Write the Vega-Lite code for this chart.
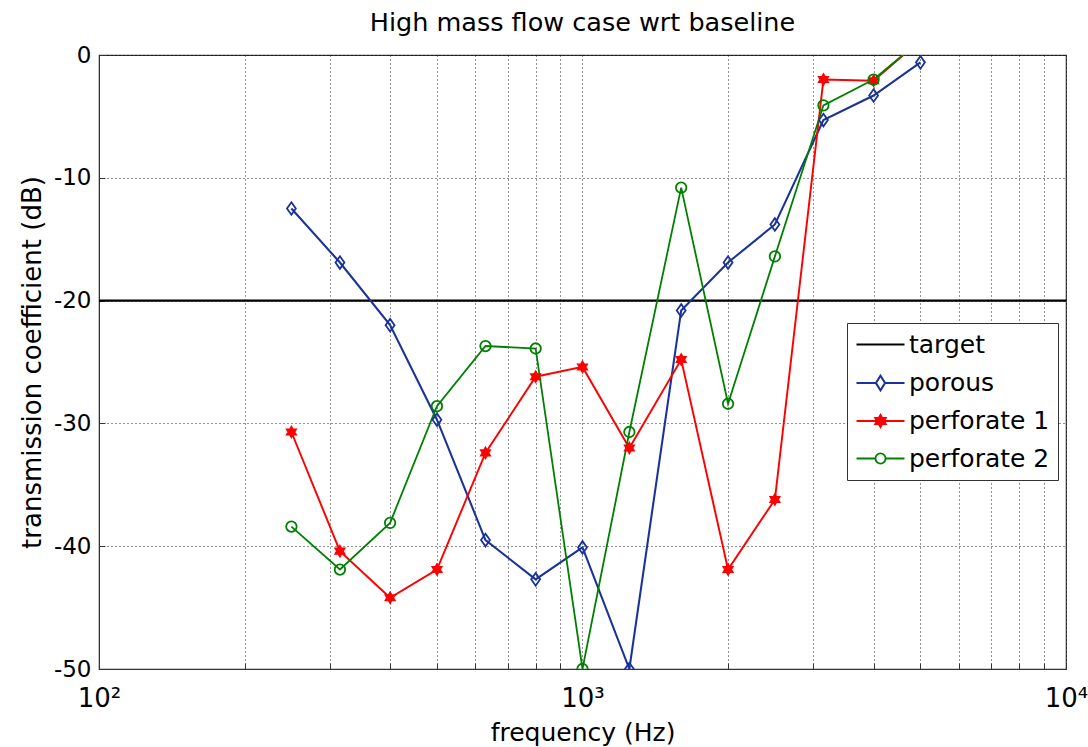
{
  "$schema": "https://vega.github.io/schema/vega-lite/v6.json",
  "width": 967,
  "height": 614,
  "autosize": {"type": "none"},
  "padding": {"left": 99, "top": 55, "right": 22, "bottom": 78},
  "background": "white",
  "title": {"text": "High mass flow case wrt baseline", "font": "DejaVu Sans", "fontSize": 25.5, "fontWeight": "normal", "color": "black", "offset": 8},
  "config": {
    "font": "DejaVu Sans",
    "view": {"stroke": "#333", "strokeWidth": 1.2}
  },
  "data": {
    "values": [
      {"series": "target", "freq": 100, "value": -20},
      {"series": "target", "freq": 10000, "value": -20},
      {"series": "porous", "freq": 250, "value": -12.5},
      {"series": "porous", "freq": 315, "value": -16.9},
      {"series": "porous", "freq": 400, "value": -22.0},
      {"series": "porous", "freq": 500, "value": -29.7},
      {"series": "porous", "freq": 630, "value": -39.5},
      {"series": "porous", "freq": 800, "value": -42.7},
      {"series": "porous", "freq": 1000, "value": -40.1},
      {"series": "porous", "freq": 1250, "value": -50.0},
      {"series": "porous", "freq": 1600, "value": -20.8},
      {"series": "porous", "freq": 2000, "value": -16.9},
      {"series": "porous", "freq": 2500, "value": -13.8},
      {"series": "porous", "freq": 3150, "value": -5.3},
      {"series": "porous", "freq": 4000, "value": -3.3},
      {"series": "porous", "freq": 5000, "value": -0.6},
      {"series": "perforate 1", "freq": 250, "value": -30.7},
      {"series": "perforate 1", "freq": 315, "value": -40.4},
      {"series": "perforate 1", "freq": 400, "value": -44.2},
      {"series": "perforate 1", "freq": 500, "value": -41.9},
      {"series": "perforate 1", "freq": 630, "value": -32.4},
      {"series": "perforate 1", "freq": 800, "value": -26.2},
      {"series": "perforate 1", "freq": 1000, "value": -25.4},
      {"series": "perforate 1", "freq": 1250, "value": -32.0},
      {"series": "perforate 1", "freq": 1600, "value": -24.8},
      {"series": "perforate 1", "freq": 2000, "value": -41.9},
      {"series": "perforate 1", "freq": 2500, "value": -36.2},
      {"series": "perforate 1", "freq": 3150, "value": -2.0},
      {"series": "perforate 1", "freq": 4000, "value": -2.1},
      {"series": "perforate 1", "freq": 5000, "value": 1.2},
      {"series": "perforate 2", "freq": 250, "value": -38.4},
      {"series": "perforate 2", "freq": 315, "value": -41.9},
      {"series": "perforate 2", "freq": 400, "value": -38.1},
      {"series": "perforate 2", "freq": 500, "value": -28.6},
      {"series": "perforate 2", "freq": 630, "value": -23.7},
      {"series": "perforate 2", "freq": 800, "value": -23.9},
      {"series": "perforate 2", "freq": 1000, "value": -50.0},
      {"series": "perforate 2", "freq": 1250, "value": -30.7},
      {"series": "perforate 2", "freq": 1600, "value": -10.8},
      {"series": "perforate 2", "freq": 2000, "value": -28.4},
      {"series": "perforate 2", "freq": 2500, "value": -16.4},
      {"series": "perforate 2", "freq": 3150, "value": -4.1},
      {"series": "perforate 2", "freq": 4000, "value": -2.0},
      {"series": "perforate 2", "freq": 5000, "value": 1.2}
    ]
  },
  "encoding": {
    "x": {
      "field": "freq", "type": "quantitative",
      "scale": {"type": "log", "domain": [100, 10000], "nice": false},
      "axis": {
        "title": "frequency (Hz)",
        "values": [100, 200, 300, 400, 500, 600, 700, 800, 900, 1000, 2000, 3000, 4000, 5000, 6000, 7000, 8000, 9000, 10000],
        "labelExpr": "datum.value == 100 ? '10²' : datum.value == 1000 ? '10³' : datum.value == 10000 ? '10⁴' : ''",
        "labelFlush": false, "labelOverlap": false,
        "labelFont": "DejaVu Sans", "labelFontSize": 26, "labelColor": "black",
        "labelPadding": 22,
        "tickSize": -6, "tickColor": "#333", "tickWidth": 1,
        "domainColor": "#333",
        "grid": true, "gridDash": [1, 3], "gridColor": "#000", "gridOpacity": 0.85, "gridWidth": 1,
        "titleFont": "DejaVu Sans", "titleFontSize": 25, "titleFontWeight": "normal", "titleColor": "black", "titlePadding": 9
      }
    },
    "y": {
      "field": "value", "type": "quantitative",
      "scale": {"domain": [-50, 0], "nice": false, "zero": false},
      "axis": {
        "title": "transmission coefficient (dB)",
        "values": [-50, -40, -30, -20, -10, 0],
        "labelExpr": "'' + datum.value",
        "labelFont": "DejaVu Sans", "labelFontSize": 23, "labelColor": "black",
        "labelPadding": 14,
        "tickSize": -6, "tickColor": "#333",
        "domainColor": "#333",
        "grid": true, "gridDash": [1, 3], "gridColor": "#000", "gridOpacity": 0.85, "gridWidth": 1,
        "titleFont": "DejaVu Sans", "titleFontSize": 26, "titleFontWeight": "normal", "titleColor": "black", "titlePadding": 8
      }
    }
  },
  "layer": [
    {
      "mark": {"type": "line", "clip": true},
      "encoding": {
        "color": {
          "field": "series", "type": "nominal",
          "scale": {"domain": ["target", "porous", "perforate 1", "perforate 2"], "range": ["#000000", "#1a3399", "#ff0000", "#008000"]},
          "legend": {
            "title": null,
            "orient": "none", "legendX": 748, "legendY": 268,
            "direction": "vertical",
            "fillColor": "white", "strokeColor": "#333", "padding": 8, "cornerRadius": 0,
            "labelFont": "DejaVu Sans", "labelFontSize": 25, "labelColor": "black",
            "symbolSize": 576, "symbolOffset": 12, "labelOffset": 15, "rowPadding": 11.5,
            "symbolStrokeWidth": 2,
            "encode": {
              "symbols": {
                "update": {
                  "shape": {"signal": "datum.value === 'target' ? 'M-2,0H2' : datum.value === 'porous' ? 'M-2,0H-0.38M0.38,0H2M0,-0.6L0.38,0L0,0.6L-0.38,0Z' : datum.value === 'perforate 1' ? 'M-2,0H2M0,-0.5L0.144,-0.25L0.433,-0.25L0.289,0L0.433,0.25L0.144,0.25L0,0.5L-0.144,0.25L-0.433,0.25L-0.289,0L-0.433,-0.25L-0.144,-0.25Z' : 'M-2,0H-0.42M0.42,0H2M0.42,0A0.42,0.42,0,1,1,-0.42,0A0.42,0.42,0,1,1,0.42,0Z'"},
                  "fill": {"signal": "datum.value === 'perforate 1' ? '#ff0000' : 'white'"},
                  "strokeWidth": {"value": 2}
                }
              }
            }
          }
        },
        "strokeWidth": {
          "field": "series", "type": "nominal",
          "scale": {"domain": ["target", "porous", "perforate 1", "perforate 2"], "range": [2.2, 1.8, 1.9, 1.9]},
          "legend": null
        }
      }
    },
    {
      "transform": [{"filter": "datum.series !== 'target'"}],
      "mark": {"type": "point", "clip": true, "size": 110, "strokeWidth": 1.8, "opacity": 1},
      "encoding": {
        "color": {"field": "series", "type": "nominal"},
        "shape": {
          "field": "series", "type": "nominal",
          "scale": {"domain": ["porous", "perforate 1", "perforate 2"], "range": ["M0,-1.2L0.85,0L0,1.2L-0.85,0Z", "M0,-1L0.289,-0.5L0.866,-0.5L0.577,0L0.866,0.5L0.289,0.5L0,1L-0.289,0.5L-0.866,0.5L-0.577,0L-0.866,-0.5L-0.289,-0.5Z", "M1,0A1,1,0,1,1,-1,0A1,1,0,1,1,1,0Z"]},
          "legend": null
        },
        "fill": {
          "field": "series", "type": "nominal",
          "scale": {"domain": ["porous", "perforate 1", "perforate 2"], "range": ["transparent", "#ff0000", "transparent"]},
          "legend": null
        }
      }
    }
  ]
}
